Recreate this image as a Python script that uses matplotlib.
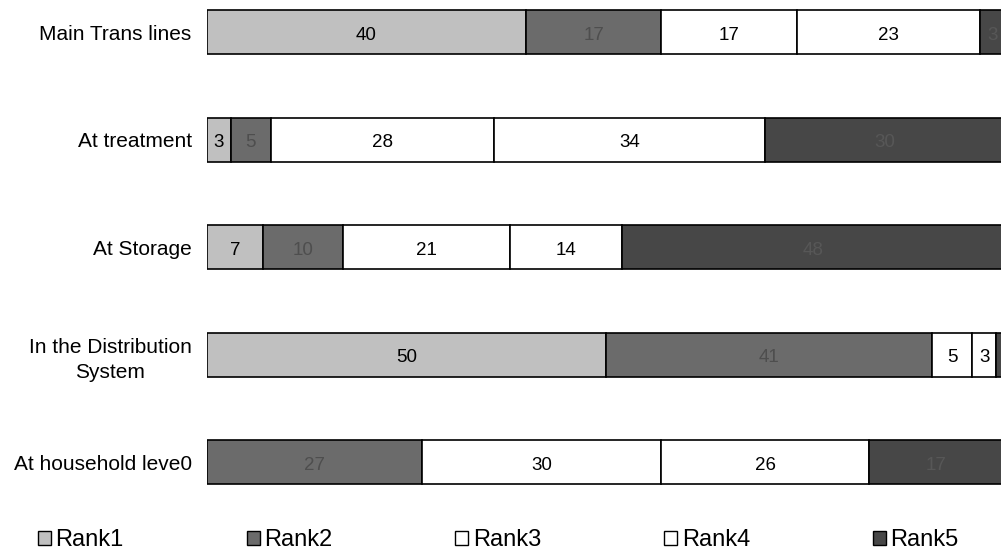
import matplotlib.pyplot as plt
from matplotlib.patches import Patch

plt.rcParams['font.family'] = ['Liberation Sans', 'DejaVu Sans']

categories = ['Main Trans lines', 'At treatment', 'At Storage',
              'In the Distribution\nSystem', 'At household leve0']
rank1 = [40, 3, 7, 50, 0]
rank2 = [17, 5, 10, 41, 27]
rank3 = [17, 28, 21, 5, 30]
rank4 = [23, 34, 14, 3, 26]
rank5 = [3, 30, 48, 1, 17]

series = [rank1, rank2, rank3, rank4, rank5]
names = ['Rank1', 'Rank2', 'Rank3', 'Rank4', 'Rank5']
fills = ['#c0c0c0', '#6b6b6b', '#ffffff', '#ffffff', '#474747']
text_colors = ['black', '#4e4e4e', 'black', 'black', '#575757']

XMAX = 99.6

fig = plt.figure(figsize=(10.01, 5.53), dpi=100)
ax = fig.add_axes([207 / 1001, 53 / 553, 794 / 1001, 500 / 553])

ypos = list(range(len(categories)))[::-1]
left = [0] * len(categories)
for vals, fc, tc in zip(series, fills, text_colors):
    ax.barh(ypos, vals, left=left, height=0.41, color=fc,
            edgecolor='black', linewidth=1.2)
    for y, l, v in zip(ypos, left, vals):
        # labels whose segment runs off the right edge are not drawn
        if v > 0 and l + v / 2 < XMAX - 0.5:
            ax.text(l + v / 2, y - 0.01, str(v), ha='center', va='center_baseline',
                    fontsize=13.5, color=tc, clip_on=True)
    left = [a + b for a, b in zip(left, vals)]

ax.set_xlim(0, XMAX)
ax.set_ylim(-0.353, 4.298)
ax.set_yticks(ypos)
ax.set_yticklabels(categories, fontsize=15, ha='right', multialignment='center',
                   linespacing=1.45)
ax.tick_params(axis='y', length=0, pad=11)
ax.set_xticks([])
for s in ax.spines.values():
    s.set_visible(False)

handles = [Patch(facecolor=fc, edgecolor='black', linewidth=1.0) for fc in fills]
fig.legend(handles, names, loc='center left', bbox_to_anchor=(26 / 1001, 13 / 553),
           ncol=5, frameon=False, fontsize=17, handlelength=0.55, handleheight=0.55,
           handletextpad=0.2, columnspacing=5.2, borderpad=0)

fig.savefig('out.png', dpi=100)
